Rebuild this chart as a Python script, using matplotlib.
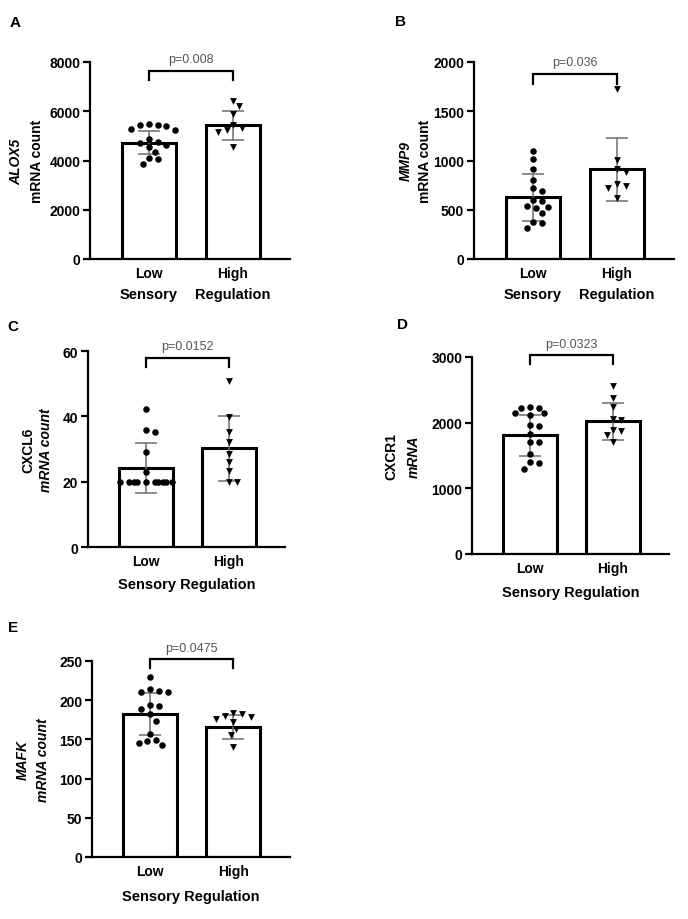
"""
Five bar + dot panels: mRNA counts by sensory regulation group
"""
import numpy as np
import matplotlib
matplotlib.use("Agg")
import matplotlib.pyplot as plt
from matplotlib import rc
rc("font", family="Liberation Sans", size=10, weight="bold")

groups = ["Low", "High"]

# panel A - ALOX5
alox5_low  = [5450, 5450, 5400, 5480, 5290, 5250, 4880, 4750, 4720, 4610, 4560, 4340, 4100, 4050, 3870]
alox5_high = [6420, 6230, 5900, 5450, 5300, 5220, 5150, 4550]
alox5_mean = [4720, 5430]
alox5_sd   = [470, 590]

# panel B - MMP9
mmp9_low  = [1100, 1020, 910, 800, 720, 690, 600, 590, 540, 530, 520, 470, 380, 370, 310]
mmp9_high = [1730, 1010, 910, 880, 760, 740, 720, 615]
mmp9_mean = [625, 910]
mmp9_sd   = [235, 320]

# panel C - CXCL6
cxcl6_low  = [42.2, 35.8, 35.3, 29, 23, 20, 20, 20, 20, 20, 20, 20, 20, 20, 20]
cxcl6_high = [50.8, 39.7, 35.1, 32, 28.5, 25.9, 23.4, 20, 20]
cxcl6_mean = [24.2, 30.2]
cxcl6_sd   = [7.6, 10.0]

# panel D - CXCR1
cxcr1_low  = [2240, 2230, 2220, 2150, 2140, 2120, 1960, 1950, 1830, 1710, 1700, 1530, 1400, 1390, 1300]
cxcr1_high = [2560, 2370, 2240, 2060, 2040, 1890, 1880, 1810, 1700]
cxcr1_mean = [1805, 2020]
cxcr1_sd   = [305, 285]

# panel E - MAFK
mafk_low  = [229, 214, 212, 211, 210, 194, 193, 189, 182, 174, 157, 149, 148, 146, 143]
mafk_high = [184, 182, 180, 179, 176, 172, 163, 155, 140]
mafk_mean = [182, 166]
mafk_sd   = [27, 15]

p_values = ["p=0.008", "p=0.036", "p=0.0152", "p=0.0323", "p=0.0475"]


def swarm(vals, ymax, h_px, w_px=84.0, d_px=7.5, step=0.035, maxk=9):
    # simple beeswarm: place each point at the nearest free horizontal slot
    vals = np.asarray(vals, float)
    order = np.argsort(-vals)
    ks = [0]
    for k in range(1, maxk + 1):
        ks += [k, -k]
    placed = []
    offs = np.zeros(len(vals))
    for i in order:
        y = vals[i] / ymax * h_px
        best, bestd = 0, -1
        for k in ks:
            x = k * step * w_px
            dmin = min([np.hypot(x - px, y - py) for px, py in placed] or [99])
            if dmin >= d_px:
                best = k
                break
            if dmin > bestd:
                best, bestd = k, dmin
        offs[i] = best * step
        placed.append((best * step * w_px, y))
    return offs


def panel(rect, low, high, mean, sd, ymax, yticks, pval, brk, gene, gene_it, sub, sub_it,
          lab_off, letter, letter_xy, split_xlabel, xlab_off):
    ax = fig.add_axes(rect)
    x = np.arange(2)
    ax.bar(x, mean, width=0.65, color="white", edgecolor="black", linewidth=2.2, zorder=1)
    h_px = rect[3] * 920
    ax.errorbar(x, mean, yerr=sd, fmt="none", ecolor="#6e6e6e", elinewidth=1.1,
                capsize=8, capthick=1.1, zorder=2)
    ax.scatter(x[0] + swarm(low, ymax, h_px), low, marker="o", s=22, color="black",
               zorder=3, linewidths=0)
    ax.scatter(x[1] + swarm(high, ymax, h_px), high, marker="v", s=24, color="black",
               zorder=3, linewidths=0)

    # significance bracket
    top, tick = brk
    ax.plot([0, 0, 1, 1], [tick, top, top, tick], color="black", linewidth=1.6,
            clip_on=False, solid_joinstyle="miter")
    ax.annotate(pval, xy=(0.5, top), xycoords="data", xytext=(0, 4), textcoords="offset points",
                ha="center", va="bottom", fontsize=9, fontweight="normal", color="#555555",
                annotation_clip=False)

    ax.set_xlim(-0.7, 1.68)
    ax.set_ylim(0, ymax)
    ax.set_yticks(yticks)
    ax.set_xticks(x)
    ax.set_xticklabels(groups)
    for s in ["top", "right"]:
        ax.spines[s].set_visible(False)
    for s in ["left", "bottom"]:
        ax.spines[s].set_linewidth(1.6)
    ax.tick_params(axis="y", width=1.6, length=5, pad=2, labelsize=10)
    ax.tick_params(axis="x", width=0, length=0, pad=5, labelsize=10)

    # two-line y label
    ax.annotate(gene, xy=(0, 0.5), xycoords="axes fraction", xytext=(lab_off[0], 0),
                textcoords="offset points", rotation=90, ha="center", va="center",
                fontsize=10, fontweight="bold", fontstyle="italic" if gene_it else "normal")
    ax.annotate(sub, xy=(0, 0.5), xycoords="axes fraction", xytext=(lab_off[1], 0),
                textcoords="offset points", rotation=90, ha="center", va="center",
                fontsize=10, fontweight="bold", fontstyle="italic" if sub_it else "normal")

    if split_xlabel:
        for xi, word in zip(x, ["Sensory", "Regulation"]):
            ax.annotate(word, xy=(xi, 0), xycoords=("data", "axes fraction"),
                        xytext=(0, -xlab_off), textcoords="offset points",
                        ha="center", va="center", fontsize=10.5, fontweight="bold")
    else:
        ax.annotate("Sensory Regulation", xy=(0.5, 0), xycoords="axes fraction",
                    xytext=(0, -xlab_off), textcoords="offset points",
                    ha="center", va="center", fontsize=10.5, fontweight="bold")

    fig.text(letter_xy[0] / 688, 1 - letter_xy[1] / 920, letter, fontsize=11,
             fontweight="bold", ha="center", va="center")
    return ax


def rect_px(l, r, t, b):
    return [l / 688, 1 - b / 920, (r - l) / 688, (b - t) / 920]


fig = plt.figure(figsize=(6.88, 9.2), dpi=100)

panel(rect_px(90, 290, 63, 260), alox5_low, alox5_high, alox5_mean, alox5_sd,
      8000, [0, 2000, 4000, 6000, 8000], p_values[0], (7650, 7250),
      "ALOX5", True, "mRNA count", False, (-53, -38), "A", (15, 23), True, 25)

panel(rect_px(474, 674, 63, 260), mmp9_low, mmp9_high, mmp9_mean, mmp9_sd,
      2000, [0, 500, 1000, 1500, 2000], p_values[1], (1880, 1780),
      "MMP9", True, "mRNA count", False, (-49, -35), "B", (401, 22), True, 25)

panel(rect_px(88, 285, 352, 548), cxcl6_low, cxcl6_high, cxcl6_mean, cxcl6_sd,
      60, [0, 20, 40, 60], p_values[2], (58, 55.2),
      "CXCL6", False, "mRNA count", True, (-43, -30), "C", (13, 327), False, 27)

panel(rect_px(472, 669, 358, 555), cxcr1_low, cxcr1_high, cxcr1_mean, cxcr1_sd,
      3000, [0, 1000, 2000, 3000], p_values[3], (3025, 2900),
      "CXCR1", False, "mRNA", True, (-58, -42), "D", (402, 325), False, 27)

panel(rect_px(92, 290, 662, 858), mafk_low, mafk_high, mafk_mean, mafk_sd,
      250, [0, 50, 100, 150, 200, 250], p_values[4], (252, 241),
      "MAFK", True, "mRNA count", True, (-50, -35), "E", (13, 628), False, 28)

fig.savefig("out.png", format="png", dpi=100)
